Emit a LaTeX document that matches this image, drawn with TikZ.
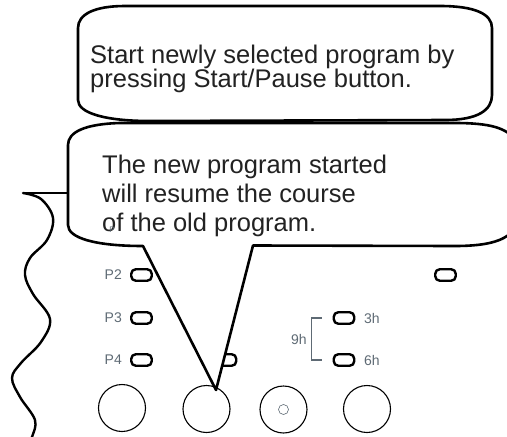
\documentclass[tikz,border=0pt]{standalone}
\usepackage{fontspec}
\setsansfont{Liberation Sans}
\usepackage{xcolor}
\definecolor{panelGrey}{HTML}{5E6A74}
\definecolor{inkDark}{HTML}{222222}
\usetikzlibrary{positioning}

\begin{document}
\begin{tikzpicture}[
  x=1pt, y=-1pt,
  btn/.style={draw, line width=2.4pt, rounded corners=4.5pt, minimum width=20.5pt, minimum height=11.5pt, inner sep=0pt},
  knob/.style={draw, line width=1.1pt, circle, minimum size=47pt, inner sep=0pt},
  lbl/.style={text=panelGrey, font=\sffamily\fontsize{14}{14}\selectfont, inner sep=0pt},
  bubble/.style={draw, line width=2.6pt, fill=white, line join=round},
  saying/.style={text=inkDark, align=left, anchor=base west, inner sep=0pt}
]
  \useasboundingbox (0,0) rectangle (507,437);
  \clip (0,0) rectangle (507,437);

  % Panel: program buttons
  \node[btn] at (141.5,275) (bp2) {};
  \node[btn] at (141.5,318) (bp3) {};
  \node[btn] at (141.5,360) (bp4) {};
  \node[btn] at (226,360)   (bmid) {};
  \node[btn] at (445.5,275) (bright) {};
  \node[btn] at (344,318)   (b3h) {};
  \node[btn] at (344,360)   (b6h) {};

  \node[lbl, left=8pt of bp2] (lp2) {P2};
  \node[lbl, left=8pt of bp3] (lp3) {P3};
  \node[lbl, left=8pt of bp4] (lp4) {P4};
  \node[lbl, right=8.5pt of b3h] (l3h) {3h};
  \node[lbl, right=8.5pt of b6h] (l6h) {6h};

  % Delay bracket
  \coordinate (brtop) at ([xshift=-11pt]b3h.west);
  \coordinate (brbot) at ([xshift=-11pt]b6h.west);
  \draw[panelGrey, line width=1.2pt] (brtop) -- ++(-10,0) |- (brbot);
  \node[lbl] at (299,339) (l9h) {9h};

  % Knobs
  \node[knob] at (122,408)   (k1) {};
  \node[knob] at (206.5,409) (k2) {};
  \node[knob] at (283.5,409.5) (k3) {};
  \node[knob] at (367,409)   (k4) {};
  \node[draw=panelGrey, circle, line width=0.6pt, minimum size=10pt, inner sep=0pt] at (k3) (k3dot) {};

  % Wavy edge
  \coordinate (wavetop) at (23,193);
  \coordinate (waveend) at (68,193);
  \draw[line width=2.4pt] (wavetop) -- (waveend);
  \draw[line width=2.4pt, line cap=round] plot[smooth, tension=0.6] coordinates {
    (wavetop) (41,199) (53,218) (47,240) (30,258) (25,275) (33,294) (50,319)
    (41,342) (21,363) (12,378) (20,397) (35,420) (32,437) (28,446)};

  % Callouts
  \draw[bubble] (78,28) -- (78,100) .. controls (78,113) and (105,121) .. (150,121)
    -- (445,120) .. controls (478,120) and (492,110) .. (492,95)
    -- (492,28) .. controls (492,14) and (475,6) .. (440,6)
    -- (125,6) .. controls (95,6) and (78,14) .. (78,28) -- cycle;
  \draw[bubble] (68,145) -- (68,225) .. controls (68,238) and (95,246) .. (143,246)
    -- (216,390) -- (253,245.5)
    -- (455,246) .. controls (490,246) and (507,240) .. (515,228)
    -- (515,140) .. controls (507,128) and (490,123) .. (455,123)
    -- (120,123) .. controls (85,124) and (68,132) .. (68,145) -- cycle;

  \node[saying, font=\sffamily\fontsize{25.5}{24.5}\selectfont] at (90,87.5) (msgstart)
    {Start newly selected program by\\pressing Start/Pause button.};
  \node[saying, font=\sffamily\fontsize{25.5}{29}\selectfont] at (102,231) (msgresume)
    {The new program started\\will resume the course\\of the old program.};

  \node[text=panelGrey, font=\sffamily\fontsize{8}{8}\selectfont, inner sep=0pt] at (112,230) (lp1) {P};
\end{tikzpicture}
\end{document}
